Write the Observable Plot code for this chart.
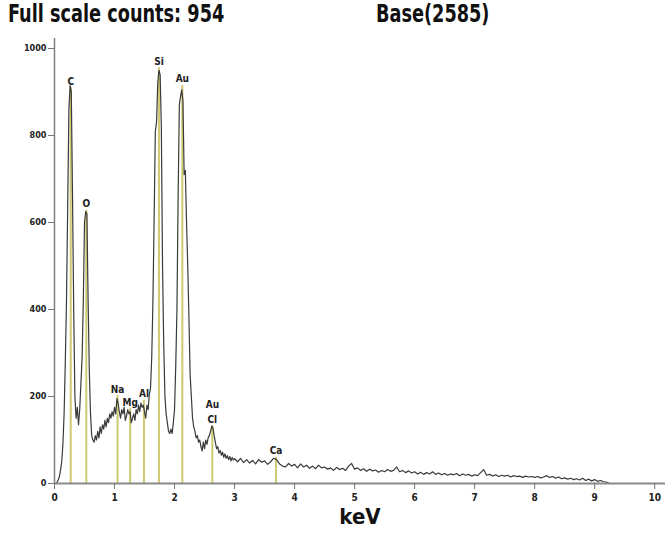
<!DOCTYPE html>
<html>
<head>
<meta charset="utf-8">
<script src="https://cdn.jsdelivr.net/npm/d3@7"></script>
<script src="https://cdn.jsdelivr.net/npm/@observablehq/plot@0.6"></script>
<style>
  html, body { margin: 0; padding: 0; background: #fff; }
  #wrap { position: relative; width: 665px; height: 535px; overflow: hidden; }
  .ttl { position: absolute; font-family: "Liberation Sans Narrow", "DejaVu Sans Condensed", sans-serif; font-weight: bold; font-size: 24px; color: #111; white-space: nowrap; transform: scaleX(0.82); transform-origin: left top; }
</style>
</head>
<body>
<div id="wrap">
  <div class="ttl" id="t1" style="left:8px; top:0px;">Full scale counts: 954</div>
  <div class="ttl" id="t2" style="left:376px; top:0px;">Base(2585)</div>
</div>
<script>
// Spectrum counts, 0.00 - 2.98 keV, step 0.02 keV
const lowStart = 0, lowStep = 0.02;
const lowCounts = [
  0, 0, 2, 8, 15, 30, 50, 90, 160, 280,
  420, 640, 860, 915, 900, 660, 400, 200, 150, 175,
  135, 170, 230, 290, 420, 600, 625, 620, 420, 260,
  160, 110, 100, 95, 110, 100, 120, 105, 130, 115,
  135, 125, 145, 130, 150, 140, 160, 150, 165, 155,
  175, 160, 195, 185, 165, 150, 170, 160, 175, 145,
  155, 170, 160, 165, 140, 150, 160, 145, 170, 160,
  180, 165, 185, 175, 180, 165, 150, 180, 170, 205,
  220, 290, 420, 610, 810, 830, 920, 950, 940, 820,
  500, 320, 200, 160, 140, 120, 115, 125, 115, 140,
  170, 270, 400, 660, 870, 890, 905, 880, 710, 720,
  600, 500, 380, 250, 200, 150, 130, 120, 105, 110,
  95, 100, 85, 75, 95, 80, 100, 90, 105, 110,
  120, 132, 128, 110, 95, 80, 85, 70, 76, 65,
  72, 60, 68, 58, 64, 55, 62, 52, 60, 54
];
// Spectrum counts, 3.00 - 10.20 keV, step 0.05 keV
const highStart = 3.0, highStep = 0.05;
const highCounts = [
  57, 50, 58, 48, 55, 47, 53, 45, 55, 49,
  52, 44, 50, 58, 55, 45, 40, 38, 46, 40,
  44, 36, 45, 38, 42, 35, 40, 34, 42, 36,
  38, 33, 36, 30, 37, 32, 35, 30, 40, 46,
  33, 36, 30, 34, 28, 33, 29, 31, 26, 30,
  27, 32, 28, 30, 38, 27, 30, 25, 29, 24,
  27, 22, 26, 21, 25, 22, 27, 21, 24, 20,
  23, 19, 22, 20, 23, 18, 22, 19, 21, 17,
  20, 18, 25, 32, 19, 21, 17, 20, 16, 19,
  17, 19, 15, 18, 16, 17, 14, 17, 15, 16,
  14, 16, 13, 15, 18, 14, 16, 12, 15, 11,
  13, 10, 12, 9, 11, 8, 12, 7, 10, 6,
  9, 5, 7, 4, 3, 0, 0, 0, 0, 0,
  0, 0, 0, 0, 0, 0, 0, 0, 0, 0,
  0, 0, 0, 0, 0
];
// Peak identification markers
const peakNames = ["C", "O", "Na", "Mg", "Al", "Si", "Au", "Au\nCl", "Ca"];
const peakEnergy = [0.27, 0.53, 1.05, 1.26, 1.49, 1.74, 2.13, 2.63, 3.69];
const peakTop = [910, 628, 202, 172, 191, 956, 915, 133, 60];
const xTicks = [0, 1, 2, 3, 4, 5, 6, 7, 8, 9, 10];
const yTicks = [0, 200, 400, 600, 800, 1000];

const spectrum = lowCounts.map((c, i) => ({e: lowStart + i * lowStep, c}))
  .concat(highCounts.map((c, i) => ({e: highStart + i * highStep, c})));
const peaks = peakNames.map((n, i) => ({name: n, e: peakEnergy[i], top: peakTop[i]}));

const font = '"Liberation Sans Narrow", "DejaVu Sans Condensed", sans-serif';

const chart = Plot.plot({
  width: 665,
  height: 535,
  marginTop: 38,
  marginBottom: 52,
  marginLeft: 54,
  marginRight: 0,
  style: {fontFamily: font, background: "transparent"},
  x: {domain: [0, 10.18]},
  y: {domain: [0, 1023]},
  marks: [
    Plot.ruleX(peaks, {x: "e", y1: 0, y2: "top", stroke: "#cfc870", strokeWidth: 2}),
    Plot.line(spectrum, {x: "e", y: "c", curve: "linear", stroke: "#3a3a3a", strokeWidth: 1.2}),
    Plot.text(peaks, {x: "e", y: "top", text: "name", lineAnchor: "bottom", dy: -3, fontSize: 10, fontWeight: "bold", fill: "#222", lineHeight: 1.5}),
    Plot.ruleX([0], {y1: 0, y2: 1023, stroke: "#808080", strokeWidth: 1.5}),
    Plot.ruleY([0], {stroke: "#8a8a8a", strokeWidth: 2}),
    Plot.axisX(xTicks, {tickSize: 6, tickPadding: 4, fontSize: 10, fontWeight: "bold", stroke: "#777", fill: "#222", label: null}),
    Plot.axisY(yTicks, {tickSize: 6, tickPadding: 2, fontSize: 9, fontWeight: "bold", stroke: "#777", fill: "#222", label: null, tickFormat: d => String(d)}),
    Plot.text(["keV"], {frameAnchor: "bottom", dy: 40, fontSize: 22, fontWeight: "bold", fill: "#111"})
  ]
});
document.getElementById("wrap").prepend(chart);
chart.style.position = "absolute";
chart.style.left = "0px";
chart.style.top = "0px";
</script>
</body>
</html>
